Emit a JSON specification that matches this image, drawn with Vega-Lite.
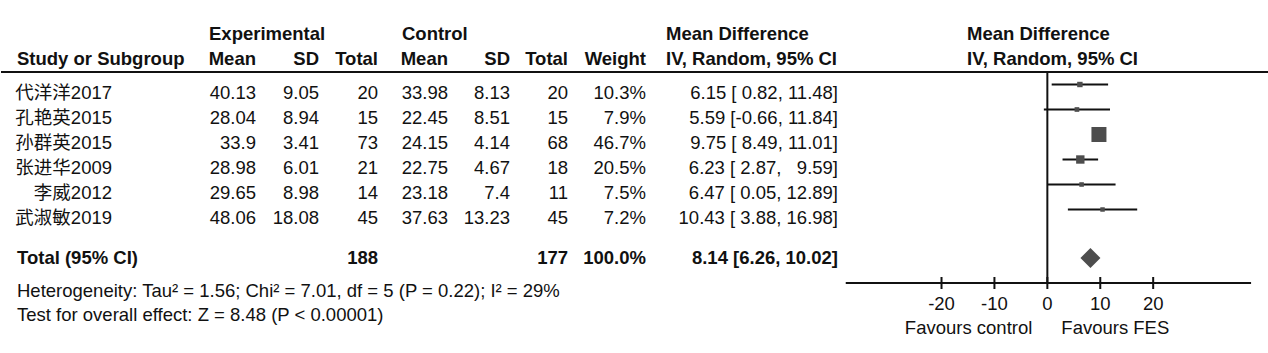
{
  "$schema": "https://vega.github.io/schema/vega-lite/v6.json",
  "width": 1268,
  "height": 353,
  "padding": 0,
  "autosize": {"type": "fit", "contains": "padding"},
  "background": "white",
  "config": {
    "view": {"stroke": null},
    "text": {"font": "Liberation Sans, Noto Sans CJK SC", "fontSize": 18.5, "baseline": "middle", "color": "#111", "dy": 1}
  },
  "datasets": {
    "studies": [
      {"row": 1, "study": "代洋洋2017", "em": "40.13", "esd": "9.05", "en": "20", "cm": "33.98", "csd": "8.13", "cn": "20", "w": 0.103, "md": 6.15, "lo": 0.82, "hi": 11.48, "ci": "6.15 [ 0.82, 11.48]"},
      {"row": 2, "study": "孔艳英2015", "em": "28.04", "esd": "8.94", "en": "15", "cm": "22.45", "csd": "8.51", "cn": "15", "w": 0.079, "md": 5.59, "lo": -0.66, "hi": 11.84, "ci": "5.59 [-0.66, 11.84]"},
      {"row": 3, "study": "孙群英2015", "em": "33.9", "esd": "3.41", "en": "73", "cm": "24.15", "csd": "4.14", "cn": "68", "w": 0.467, "md": 9.75, "lo": 8.49, "hi": 11.01, "ci": "9.75 [ 8.49, 11.01]"},
      {"row": 4, "study": "张进华2009", "em": "28.98", "esd": "6.01", "en": "21", "cm": "22.75", "csd": "4.67", "cn": "18", "w": 0.205, "md": 6.23, "lo": 2.87, "hi": 9.59, "ci": "6.23 [ 2.87,\u00a0\u00a0 9.59]"},
      {"row": 5, "study": "李威2012", "em": "29.65", "esd": "8.98", "en": "14", "cm": "23.18", "csd": "7.4", "cn": "11", "w": 0.075, "md": 6.47, "lo": 0.05, "hi": 12.89, "ci": "6.47 [ 0.05, 12.89]"},
      {"row": 6, "study": "武淑敏2019", "em": "48.06", "esd": "18.08", "en": "45", "cm": "37.63", "csd": "13.23", "cn": "45", "w": 0.072, "md": 10.43, "lo": 3.88, "hi": 16.98, "ci": "10.43 [ 3.88, 16.98]"}
    ],
    "total": [
      {"label": "Total (95% CI)", "en": "188", "cn": "177", "weight": "100.0%", "md": 8.14, "lo": 6.26, "hi": 10.02, "ci": "8.14 [6.26, 10.02]"}
    ],
    "ticks": [{"v": -20}, {"v": -10}, {"v": 0}, {"v": 10}, {"v": 20}],
    "notes": [
      {"line": 8.92, "note": "Heterogeneity: Tau² = 1.56; Chi² = 7.01, df = 5 (P = 0.22); I² = 29%"},
      {"line": 9.88, "note": "Test for overall effect: Z = 8.48 (P < 0.00001)"}
    ]
  },
  "layer": [
    {"data": {"values": [{}]}, "mark": {"type": "rule", "strokeWidth": 2, "color": "#111"},
     "encoding": {"x": {"value": 0}, "x2": {"value": 1268},
       "y": {"datum": 0.2, "type": "quantitative", "scale": {"domain": [-2.68, 11.44], "reverse": true, "nice": false, "zero": false}, "axis": null}}},
    {"data": {"values": [{}]}, "mark": {"type": "rule", "strokeWidth": 2, "color": "#111"},
     "encoding": {"x": {"datum": 0, "type": "quantitative", "scale": {"domain": [-197.74, 41.51], "nice": false, "zero": false}, "axis": null},
       "y": {"datum": 0.2, "type": "quantitative", "scale": {"domain": [-2.68, 11.44], "reverse": true, "nice": false, "zero": false}, "axis": null},
       "y2": {"datum": 8.64}}},
    {"data": {"values": [{}]}, "mark": {"type": "rule", "strokeWidth": 2, "color": "#111"},
     "encoding": {"x": {"datum": -38.1, "type": "quantitative", "scale": {"domain": [-197.74, 41.51], "nice": false, "zero": false}, "axis": null},
       "x2": {"datum": 38.5},
       "y": {"datum": 8.64, "type": "quantitative", "scale": {"domain": [-2.68, 11.44], "reverse": true, "nice": false, "zero": false}, "axis": null}}},
    {"data": {"name": "ticks"}, "mark": {"type": "rule", "strokeWidth": 2, "color": "#111"},
     "encoding": {"x": {"field": "v", "type": "quantitative", "scale": {"domain": [-197.74, 41.51], "nice": false, "zero": false}, "axis": null},
       "y": {"datum": 8.4, "type": "quantitative", "scale": {"domain": [-2.68, 11.44], "reverse": true, "nice": false, "zero": false}, "axis": null},
       "y2": {"datum": 8.88}}},
    {"data": {"name": "ticks"}, "mark": {"type": "text", "align": "center"},
     "encoding": {"x": {"field": "v", "type": "quantitative", "scale": {"domain": [-197.74, 41.51], "nice": false, "zero": false}, "axis": null},
       "y": {"datum": 9.44, "type": "quantitative", "scale": {"domain": [-2.68, 11.44], "reverse": true, "nice": false, "zero": false}, "axis": null},
       "text": {"field": "v", "type": "nominal"}}},
    {"data": {"values": [{}]}, "mark": {"type": "text", "align": "right", "dx": -15},
     "encoding": {"x": {"datum": 0, "type": "quantitative", "scale": {"domain": [-197.74, 41.51], "nice": false, "zero": false}, "axis": null},
       "y": {"datum": 10.4, "type": "quantitative", "scale": {"domain": [-2.68, 11.44], "reverse": true, "nice": false, "zero": false}, "axis": null},
       "text": {"value": "Favours control"}}},
    {"data": {"values": [{}]}, "mark": {"type": "text", "align": "left", "dx": 14},
     "encoding": {"x": {"datum": 0, "type": "quantitative", "scale": {"domain": [-197.74, 41.51], "nice": false, "zero": false}, "axis": null},
       "y": {"datum": 10.4, "type": "quantitative", "scale": {"domain": [-2.68, 11.44], "reverse": true, "nice": false, "zero": false}, "axis": null},
       "text": {"value": "Favours FES"}}},
    {"data": {"name": "studies"}, "mark": {"type": "rule", "strokeWidth": 2, "color": "#111", "yOffset": -7.5},
     "encoding": {"x": {"field": "lo", "type": "quantitative", "scale": {"domain": [-197.74, 41.51], "nice": false, "zero": false}, "axis": null},
       "x2": {"field": "hi"},
       "y": {"field": "row", "type": "quantitative", "scale": {"domain": [-2.68, 11.44], "reverse": true, "nice": false, "zero": false}, "axis": null}}},
    {"data": {"name": "studies"}, "mark": {"type": "point", "shape": "square", "filled": true, "opacity": 1, "color": "#4d4d4d", "yOffset": -7.5},
     "encoding": {"x": {"field": "md", "type": "quantitative", "scale": {"domain": [-197.74, 41.51], "nice": false, "zero": false}, "axis": null},
       "y": {"field": "row", "type": "quantitative", "scale": {"domain": [-2.68, 11.44], "reverse": true, "nice": false, "zero": false}, "axis": null},
       "size": {"field": "w", "type": "quantitative", "scale": {"type": "pow", "exponent": 1.5, "domain": [0.072, 0.467], "range": [20, 225], "zero": false}, "legend": null}}},
    {"data": {"name": "total"}, "mark": {"type": "point", "shape": "diamond", "filled": true, "opacity": 1, "color": "#4d4d4d", "size": 400},
     "encoding": {"x": {"field": "md", "type": "quantitative", "scale": {"domain": [-197.74, 41.51], "nice": false, "zero": false}, "axis": null},
       "y": {"datum": 7.64, "type": "quantitative", "scale": {"domain": [-2.68, 11.44], "reverse": true, "nice": false, "zero": false}, "axis": null}}},

    {"data": {"values": [{}]}, "mark": {"type": "text", "align": "left", "fontWeight": "bold"},
     "encoding": {"x": {"value": 208}, "y": {"datum": -1.36, "type": "quantitative", "scale": {"domain": [-2.68, 11.44], "reverse": true, "nice": false, "zero": false}, "axis": null}, "text": {"value": "Experimental"}}},
    {"data": {"values": [{}]}, "mark": {"type": "text", "align": "left", "fontWeight": "bold"},
     "encoding": {"x": {"value": 401}, "y": {"datum": -1.36, "type": "quantitative", "scale": {"domain": [-2.68, 11.44], "reverse": true, "nice": false, "zero": false}, "axis": null}, "text": {"value": "Control"}}},
    {"data": {"values": [{}]}, "mark": {"type": "text", "align": "left", "fontWeight": "bold"},
     "encoding": {"x": {"value": 665}, "y": {"datum": -1.36, "type": "quantitative", "scale": {"domain": [-2.68, 11.44], "reverse": true, "nice": false, "zero": false}, "axis": null}, "text": {"value": "Mean Difference"}}},
    {"data": {"values": [{}]}, "mark": {"type": "text", "align": "left", "fontWeight": "bold"},
     "encoding": {"x": {"value": 966}, "y": {"datum": -1.36, "type": "quantitative", "scale": {"domain": [-2.68, 11.44], "reverse": true, "nice": false, "zero": false}, "axis": null}, "text": {"value": "Mean Difference"}}},

    {"data": {"values": [{}]}, "mark": {"type": "text", "align": "left", "fontWeight": "bold"},
     "encoding": {"x": {"value": 16}, "y": {"datum": -0.38, "type": "quantitative", "scale": {"domain": [-2.68, 11.44], "reverse": true, "nice": false, "zero": false}, "axis": null}, "text": {"value": "Study or Subgroup"}}},
    {"data": {"values": [{}]}, "mark": {"type": "text", "align": "right", "fontWeight": "bold"},
     "encoding": {"x": {"value": 255}, "y": {"datum": -0.38, "type": "quantitative", "scale": {"domain": [-2.68, 11.44], "reverse": true, "nice": false, "zero": false}, "axis": null}, "text": {"value": "Mean"}}},
    {"data": {"values": [{}]}, "mark": {"type": "text", "align": "right", "fontWeight": "bold"},
     "encoding": {"x": {"value": 318}, "y": {"datum": -0.38, "type": "quantitative", "scale": {"domain": [-2.68, 11.44], "reverse": true, "nice": false, "zero": false}, "axis": null}, "text": {"value": "SD"}}},
    {"data": {"values": [{}]}, "mark": {"type": "text", "align": "right", "fontWeight": "bold"},
     "encoding": {"x": {"value": 377}, "y": {"datum": -0.38, "type": "quantitative", "scale": {"domain": [-2.68, 11.44], "reverse": true, "nice": false, "zero": false}, "axis": null}, "text": {"value": "Total"}}},
    {"data": {"values": [{}]}, "mark": {"type": "text", "align": "right", "fontWeight": "bold"},
     "encoding": {"x": {"value": 447}, "y": {"datum": -0.38, "type": "quantitative", "scale": {"domain": [-2.68, 11.44], "reverse": true, "nice": false, "zero": false}, "axis": null}, "text": {"value": "Mean"}}},
    {"data": {"values": [{}]}, "mark": {"type": "text", "align": "right", "fontWeight": "bold"},
     "encoding": {"x": {"value": 509}, "y": {"datum": -0.38, "type": "quantitative", "scale": {"domain": [-2.68, 11.44], "reverse": true, "nice": false, "zero": false}, "axis": null}, "text": {"value": "SD"}}},
    {"data": {"values": [{}]}, "mark": {"type": "text", "align": "right", "fontWeight": "bold"},
     "encoding": {"x": {"value": 567}, "y": {"datum": -0.38, "type": "quantitative", "scale": {"domain": [-2.68, 11.44], "reverse": true, "nice": false, "zero": false}, "axis": null}, "text": {"value": "Total"}}},
    {"data": {"values": [{}]}, "mark": {"type": "text", "align": "right", "fontWeight": "bold"},
     "encoding": {"x": {"value": 645}, "y": {"datum": -0.38, "type": "quantitative", "scale": {"domain": [-2.68, 11.44], "reverse": true, "nice": false, "zero": false}, "axis": null}, "text": {"value": "Weight"}}},
    {"data": {"values": [{}]}, "mark": {"type": "text", "align": "left", "fontWeight": "bold"},
     "encoding": {"x": {"value": 665}, "y": {"datum": -0.38, "type": "quantitative", "scale": {"domain": [-2.68, 11.44], "reverse": true, "nice": false, "zero": false}, "axis": null}, "text": {"value": "IV, Random, 95% CI"}}},
    {"data": {"values": [{}]}, "mark": {"type": "text", "align": "left", "fontWeight": "bold"},
     "encoding": {"x": {"value": 966}, "y": {"datum": -0.38, "type": "quantitative", "scale": {"domain": [-2.68, 11.44], "reverse": true, "nice": false, "zero": false}, "axis": null}, "text": {"value": "IV, Random, 95% CI"}}},

    {"data": {"name": "studies"}, "mark": {"type": "text", "align": "right"},
     "encoding": {"x": {"value": 111}, "y": {"field": "row", "type": "quantitative", "scale": {"domain": [-2.68, 11.44], "reverse": true, "nice": false, "zero": false}, "axis": null}, "text": {"field": "study", "type": "nominal"}}},
    {"data": {"name": "studies"}, "mark": {"type": "text", "align": "right"},
     "encoding": {"x": {"value": 255}, "y": {"field": "row", "type": "quantitative", "scale": {"domain": [-2.68, 11.44], "reverse": true, "nice": false, "zero": false}, "axis": null}, "text": {"field": "em", "type": "nominal"}}},
    {"data": {"name": "studies"}, "mark": {"type": "text", "align": "right"},
     "encoding": {"x": {"value": 318}, "y": {"field": "row", "type": "quantitative", "scale": {"domain": [-2.68, 11.44], "reverse": true, "nice": false, "zero": false}, "axis": null}, "text": {"field": "esd", "type": "nominal"}}},
    {"data": {"name": "studies"}, "mark": {"type": "text", "align": "right"},
     "encoding": {"x": {"value": 377}, "y": {"field": "row", "type": "quantitative", "scale": {"domain": [-2.68, 11.44], "reverse": true, "nice": false, "zero": false}, "axis": null}, "text": {"field": "en", "type": "nominal"}}},
    {"data": {"name": "studies"}, "mark": {"type": "text", "align": "right"},
     "encoding": {"x": {"value": 447}, "y": {"field": "row", "type": "quantitative", "scale": {"domain": [-2.68, 11.44], "reverse": true, "nice": false, "zero": false}, "axis": null}, "text": {"field": "cm", "type": "nominal"}}},
    {"data": {"name": "studies"}, "mark": {"type": "text", "align": "right"},
     "encoding": {"x": {"value": 509}, "y": {"field": "row", "type": "quantitative", "scale": {"domain": [-2.68, 11.44], "reverse": true, "nice": false, "zero": false}, "axis": null}, "text": {"field": "csd", "type": "nominal"}}},
    {"data": {"name": "studies"}, "mark": {"type": "text", "align": "right"},
     "encoding": {"x": {"value": 567}, "y": {"field": "row", "type": "quantitative", "scale": {"domain": [-2.68, 11.44], "reverse": true, "nice": false, "zero": false}, "axis": null}, "text": {"field": "cn", "type": "nominal"}}},
    {"data": {"name": "studies"}, "mark": {"type": "text", "align": "right"},
     "encoding": {"x": {"value": 645}, "y": {"field": "row", "type": "quantitative", "scale": {"domain": [-2.68, 11.44], "reverse": true, "nice": false, "zero": false}, "axis": null}, "text": {"field": "w", "type": "quantitative", "format": ".1%"}}},
    {"data": {"name": "studies"}, "mark": {"type": "text", "align": "right"},
     "encoding": {"x": {"value": 837}, "y": {"field": "row", "type": "quantitative", "scale": {"domain": [-2.68, 11.44], "reverse": true, "nice": false, "zero": false}, "axis": null}, "text": {"field": "ci", "type": "nominal"}}},

    {"data": {"name": "total"}, "mark": {"type": "text", "align": "left", "fontWeight": "bold"},
     "encoding": {"x": {"value": 16}, "y": {"datum": 7.6, "type": "quantitative", "scale": {"domain": [-2.68, 11.44], "reverse": true, "nice": false, "zero": false}, "axis": null}, "text": {"field": "label", "type": "nominal"}}},
    {"data": {"name": "total"}, "mark": {"type": "text", "align": "right", "fontWeight": "bold"},
     "encoding": {"x": {"value": 377}, "y": {"datum": 7.6, "type": "quantitative", "scale": {"domain": [-2.68, 11.44], "reverse": true, "nice": false, "zero": false}, "axis": null}, "text": {"field": "en", "type": "nominal"}}},
    {"data": {"name": "total"}, "mark": {"type": "text", "align": "right", "fontWeight": "bold"},
     "encoding": {"x": {"value": 567}, "y": {"datum": 7.6, "type": "quantitative", "scale": {"domain": [-2.68, 11.44], "reverse": true, "nice": false, "zero": false}, "axis": null}, "text": {"field": "cn", "type": "nominal"}}},
    {"data": {"name": "total"}, "mark": {"type": "text", "align": "right", "fontWeight": "bold"},
     "encoding": {"x": {"value": 645}, "y": {"datum": 7.6, "type": "quantitative", "scale": {"domain": [-2.68, 11.44], "reverse": true, "nice": false, "zero": false}, "axis": null}, "text": {"field": "weight", "type": "nominal"}}},
    {"data": {"name": "total"}, "mark": {"type": "text", "align": "right", "fontWeight": "bold"},
     "encoding": {"x": {"value": 837}, "y": {"datum": 7.6, "type": "quantitative", "scale": {"domain": [-2.68, 11.44], "reverse": true, "nice": false, "zero": false}, "axis": null}, "text": {"field": "ci", "type": "nominal"}}},

    {"data": {"name": "notes"}, "mark": {"type": "text", "align": "left"},
     "encoding": {"x": {"value": 16}, "y": {"field": "line", "type": "quantitative", "scale": {"domain": [-2.68, 11.44], "reverse": true, "nice": false, "zero": false}, "axis": null}, "text": {"field": "note", "type": "nominal"}}}
  ]
}
